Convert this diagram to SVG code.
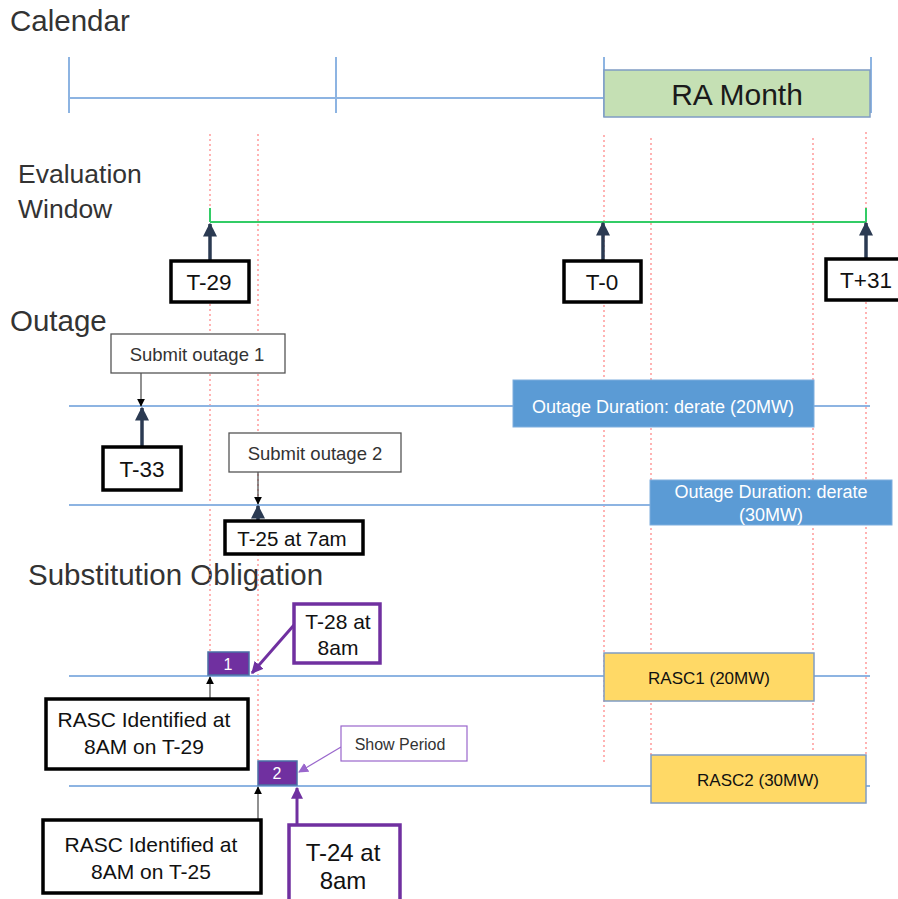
<svg xmlns="http://www.w3.org/2000/svg" width="898" height="899" viewBox="0 0 898 899">
<defs>
<style>
.h{font-family:"Liberation Sans",Arial,sans-serif;font-size:29.5px;fill:#333}
.t{font-family:"Liberation Sans",Arial,sans-serif;fill:#111;text-anchor:middle}
.blue{stroke:#8db4e2;stroke-width:2;fill:none}
.red{stroke:#ff8080;stroke-width:1.2;stroke-dasharray:2 3;fill:none}
.bx{fill:#fff;stroke:#000;stroke-width:3.5}
.gb{fill:#fff;stroke:#555;stroke-width:1.3}
.pb{fill:#fff;stroke:#7030a0;stroke-width:3.5}
.navy{stroke:#2b3a52;stroke-width:3.5;fill:none}
</style>
<marker id="an" viewBox="0 0 10 10" refX="9" refY="5" markerWidth="4" markerHeight="4" orient="auto-start-reverse"><path d="M0,0L10,5L0,10z" fill="#2b3a52"/></marker>
<marker id="ab" viewBox="0 0 10 10" refX="9" refY="5" markerWidth="8" markerHeight="8" markerUnits="userSpaceOnUse" orient="auto-start-reverse"><path d="M0,0L10,5L0,10z" fill="#000"/></marker>
<marker id="ap" viewBox="0 0 10 10" refX="9" refY="5" markerWidth="4" markerHeight="4" orient="auto-start-reverse"><path d="M0,0L10,5L0,10z" fill="#7030a0"/></marker>
<marker id="al" viewBox="0 0 10 10" refX="9" refY="5" markerWidth="10" markerHeight="10" markerUnits="userSpaceOnUse" orient="auto-start-reverse"><path d="M0,0L10,5L0,10z" fill="#9966cc"/></marker>
</defs>
<rect width="898" height="899" fill="#fff"/>

<g id="headings">
<text class="h" x="10" y="31">Calendar</text>
<text class="h" x="18" y="183" style="font-size:26.5px">Evaluation</text>
<text class="h" x="18" y="218" style="font-size:26.5px">Window</text>
<text class="h" x="10" y="331">Outage</text>
<text class="h" x="28" y="585">Substitution Obligation</text>
</g>

<g id="guides">
<line class="red" x1="210" y1="134" x2="210" y2="651"/>
<line class="red" x1="258" y1="134" x2="258" y2="760"/>
<line class="red" x1="604" y1="135" x2="604" y2="763"/>
<line class="red" x1="651" y1="138" x2="651" y2="755"/>
<line class="red" x1="813" y1="138" x2="813" y2="753"/>
<line class="red" x1="866" y1="132" x2="866" y2="755"/>
</g>

<g id="calendar">
<line class="blue" x1="69" y1="98" x2="604" y2="98"/>
<line class="blue" x1="69" y1="57" x2="69" y2="113"/>
<line class="blue" x1="336" y1="57" x2="336" y2="113"/>
<line class="blue" x1="604" y1="57" x2="604" y2="117"/>
<line class="blue" x1="871" y1="57" x2="871" y2="113"/>
</g>
<g id="ra-month">
<rect x="604" y="70" width="266" height="47" fill="#c5e0b4" stroke="#7f9cc4" stroke-width="1.5"/>
<text class="t" x="737" y="105" style="font-size:30px;fill:#1a1a1a">RA Month</text>
</g>

<g id="eval-window">
<line x1="210" y1="222" x2="866" y2="222" stroke="#33cc66" stroke-width="2"/>
<line x1="210" y1="208" x2="210" y2="222" stroke="#33cc66" stroke-width="2"/>
<line x1="866" y1="208" x2="866" y2="222" stroke="#33cc66" stroke-width="2"/>
</g>

<g id="lanes">
<line class="blue" x1="69" y1="406" x2="870" y2="406"/>
<line class="blue" x1="69" y1="505" x2="650" y2="505"/>
<line class="blue" x1="69" y1="676" x2="870" y2="676"/>
<line class="blue" x1="69" y1="786" x2="870" y2="786"/>
</g>

<g id="connectors">
<line class="navy" x1="210" y1="260" x2="210" y2="224" marker-end="url(#an)"/>
<line class="navy" x1="603" y1="260" x2="603" y2="223" marker-end="url(#an)"/>
<line class="navy" x1="866" y1="258" x2="866" y2="223" marker-end="url(#an)"/>
<line x1="141" y1="373" x2="141" y2="406" stroke="#555" stroke-width="1.3" marker-end="url(#ab)"/>
<line class="navy" x1="142" y1="447" x2="142" y2="408" marker-end="url(#an)"/>
<line x1="258" y1="472" x2="258" y2="504" stroke="#555" stroke-width="1.3" marker-end="url(#ab)"/>
<line class="navy" x1="258" y1="521" x2="258" y2="506" marker-end="url(#an)"/>
<line x1="294" y1="625" x2="252" y2="673" stroke="#7030a0" stroke-width="3" marker-end="url(#ap)"/>
<line x1="210" y1="698" x2="210" y2="677" stroke="#555" stroke-width="1.3" marker-end="url(#ab)"/>
<line x1="341" y1="747" x2="299" y2="772" stroke="#9966cc" stroke-width="1.2" marker-end="url(#al)"/>
<line x1="258" y1="821" x2="258" y2="787" stroke="#555" stroke-width="1.3" marker-end="url(#ab)"/>
<line x1="297" y1="824" x2="297" y2="788" stroke="#7030a0" stroke-width="3" marker-end="url(#ap)"/>
</g>

<g id="t-29"><rect class="bx" x="171" y="261" width="78" height="41"/><text class="t" x="209" y="290" style="font-size:22.5px">T-29</text></g>
<g id="t-0"><rect class="bx" x="564" y="261" width="77" height="41"/><text class="t" x="602" y="290" style="font-size:22.5px">T-0</text></g>
<g id="t+31"><rect class="bx" x="826" y="259" width="78" height="41"/><text class="t" x="866" y="288" style="font-size:22.5px">T+31</text></g>

<g id="submit-1"><rect class="gb" x="111" y="334" width="174" height="39"/><text class="t" x="197" y="361" style="font-size:18.5px;fill:#333">Submit outage 1</text></g>
<g id="t-33"><rect class="bx" x="103" y="447" width="78" height="43"/><text class="t" x="142" y="477" style="font-size:22.5px">T-33</text></g>
<g id="outage-1"><rect x="513" y="380" width="301" height="47" fill="#5b9bd5" stroke="#7faede" stroke-width="1"/><text class="t" x="663" y="413" style="font-size:18px;fill:#fff">Outage Duration: derate (20MW)</text></g>

<g id="submit-2"><rect class="gb" x="229" y="433" width="172" height="39"/><text class="t" x="315" y="460" style="font-size:18.5px;fill:#333">Submit outage 2</text></g>
<g id="t-25"><rect class="bx" x="225" y="521" width="138" height="33"/><text class="t" x="292" y="546" style="font-size:20.5px">T-25 at 7am</text></g>
<g id="outage-2"><rect x="650" y="480" width="242" height="45" fill="#5b9bd5" stroke="#7faede" stroke-width="1"/><text class="t" x="771" y="498" style="font-size:18px;fill:#fff">Outage Duration: derate</text><text class="t" x="771" y="521" style="font-size:18px;fill:#fff">(30MW)</text></g>

<g id="sp-1"><rect x="208" y="652" width="41" height="23" fill="#7030a0" stroke="#4a6fa5" stroke-width="1.5"/><text class="t" x="228" y="670" style="font-size:16px;fill:#fff">1</text></g>
<g id="t-28"><rect class="pb" x="294" y="604" width="86" height="59"/><text class="t" x="338" y="629" style="font-size:21px">T-28 at</text><text class="t" x="338" y="655" style="font-size:21px">8am</text></g>
<g id="rasc-29"><rect class="bx" x="46" y="699" width="202" height="70"/><text class="t" x="144" y="727" style="font-size:21px">RASC Identified at</text><text class="t" x="144" y="754" style="font-size:21px">8AM on T-29</text></g>
<g id="rasc1"><rect x="604" y="653" width="210" height="48" fill="#ffd966" stroke="#7f9cc4" stroke-width="1.5"/><text class="t" x="709" y="684" style="font-size:17px">RASC1 (20MW)</text></g>

<g id="show-period"><rect x="341" y="726" width="126" height="35" fill="#fff" stroke="#9966cc" stroke-width="1.2"/><text class="t" x="400" y="750" style="font-size:16px;fill:#333">Show Period</text></g>
<g id="sp-2"><rect x="258" y="761" width="39" height="24" fill="#7030a0" stroke="#4a6fa5" stroke-width="1.5"/><text class="t" x="277" y="779" style="font-size:16px;fill:#fff">2</text></g>
<g id="rasc-25"><rect class="bx" x="43" y="820" width="218" height="73"/><text class="t" x="151" y="852" style="font-size:21px">RASC Identified at</text><text class="t" x="151" y="879" style="font-size:21px">8AM on T-25</text></g>
<g id="t-24"><rect class="pb" x="289" y="825" width="111" height="76"/><text class="t" x="343" y="861" style="font-size:24px">T-24 at</text><text class="t" x="343" y="889" style="font-size:24px">8am</text></g>
<g id="rasc2"><rect x="651" y="755" width="215" height="48" fill="#ffd966" stroke="#7f9cc4" stroke-width="1.5"/><text class="t" x="758" y="786" style="font-size:17px">RASC2 (30MW)</text></g>
</svg>
